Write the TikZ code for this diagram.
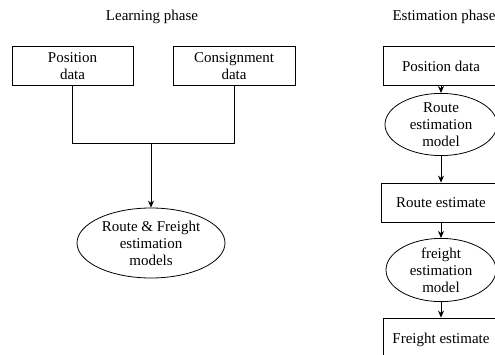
\documentclass[tikz,border=0pt]{standalone}
\usepackage{fontspec}
\setmainfont{Liberation Serif}
\usetikzlibrary{
		arrows.meta,
		shapes.geometric,
		positioning
	}
\tikzset{
		>={Stealth[length=7pt,width=6pt]}
	}

\begin{document}
\begin{tikzpicture}[x=1pt,y=-1pt,line width=0.8pt,
          font=\fontsize{15}{17}\selectfont,
          databox/.style={draw, rectangle, align=center, minimum height=39pt, inner sep=2pt},
          model/.style={draw, ellipse, align=center, inner sep=0pt}]
          \useasboundingbox (0,0) rectangle (495,355);
          \clip (0,0) rectangle (495,355);

          % learning phase
          \node (learn) at (152,17) {Learning phase};
          \node[databox, minimum width=121pt] (posL) at (72.5,66) {Position\\data};
          \node[databox, minimum width=122pt] (consL) at (234,66) {Consignment\\data};
          \node[model, minimum width=148pt, minimum height=70pt] (models) at (151,243) {Route \& Freight\\estimation\\models};
          \coordinate (join) at (151,143);

          \draw (posL.south) |- (consL.south |- join) -- (consL.south);
          \draw[->] (join) -- (models.north);

          % estimation phase
          \node (estim) at (444,17) {Estimation phase};
          \node[databox, minimum width=116pt] (posR) at (441,66) {Position data};
          \node[model, minimum width=112pt, minimum height=55pt] (routeM) at (441,124.5) {Route\\estimation\\model};
          \node[databox, minimum width=120pt] (routeE) at (441,202.5) {Route estimate};
          \node[model, minimum width=110pt, minimum height=56pt] (freightM) at (441,270) {freight\\estimation\\model};
          \node[databox, minimum width=116pt, minimum height=44pt] (freightE) at (441,340) {Freight estimate};

          \draw[->] (posR) -- (routeM);
          \draw[->] (routeM) -- (routeE);
          \draw[->] (routeE) -- (freightM);
          \draw[->] (freightM) -- (freightE);

          \end{tikzpicture}
\end{document}
